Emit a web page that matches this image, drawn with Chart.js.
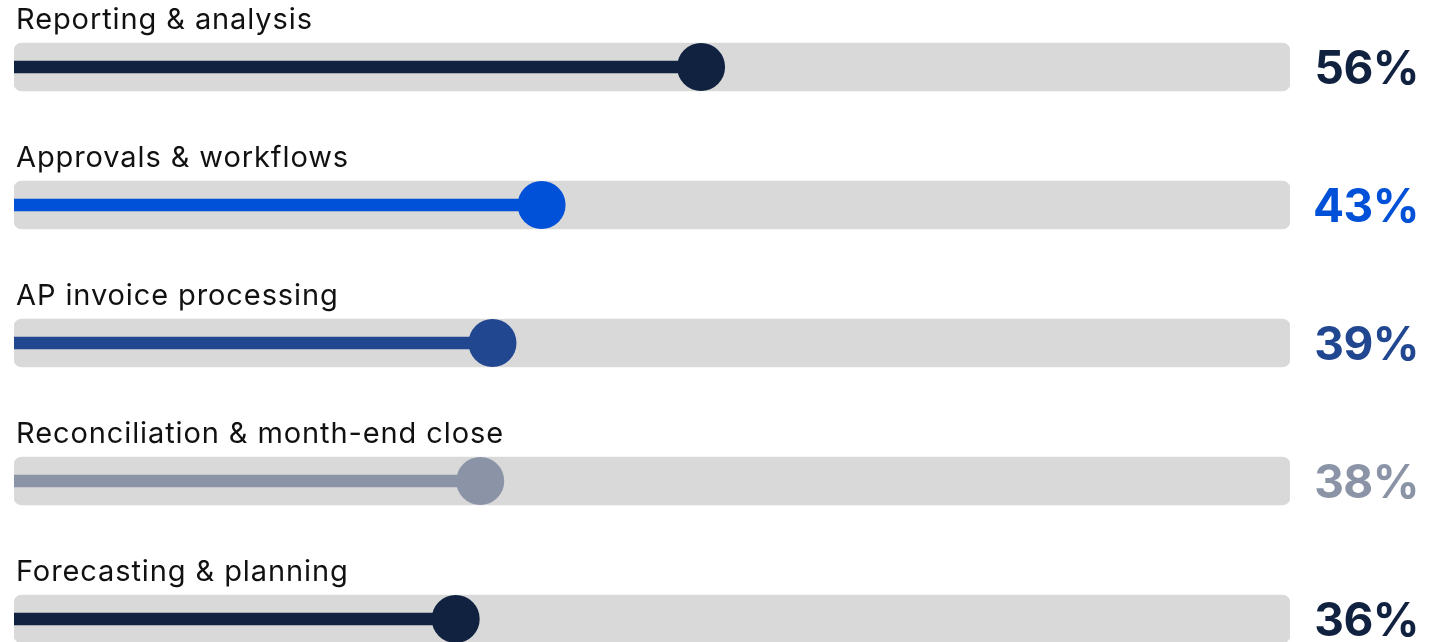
<!DOCTYPE html>
<html>
<head>
<meta charset="utf-8">
<script src="https://cdn.jsdelivr.net/npm/chart.js@4.4.1/dist/chart.umd.min.js"></script>
<style>
  html, body { margin: 0; padding: 0; background: #fff; overflow: hidden; }
  #wrap { position: absolute; left: 0; top: -2px; width: 1429px; height: 690px; }
</style>
</head>
<body>
<div id="wrap"><canvas id="chart"></canvas></div>
<script>
const categories = [
  'Reporting & analysis',
  'Approvals & workflows',
  'AP invoice processing',
  'Reconciliation & month-end close',
  'Forecasting & planning',
];
const shares = [56, 43, 39, 38, 36];
const rowColors = ['#10223f', '#0050d8', '#224791', '#8b94a7', '#10223f'];
const trackMax = 104;

// labels above each track, percentage on the right
const rowText = {
  id: 'rowText',
  afterDatasetsDraw(chart) {
    const { ctx, scales } = chart;
    ctx.save();
    categories.forEach((name, i) => {
      const y = scales.y.getPixelForValue(i);
      ctx.fillStyle = '#111111';
      ctx.font = '400 29px Inter, "Noto Sans", sans-serif';
      ctx.letterSpacing = '0.9px';
      ctx.textAlign = 'left';
      ctx.textBaseline = 'alphabetic';
      ctx.fillText(name, 16, y - 38.5);

      ctx.fillStyle = rowColors[i];
      ctx.font = '700 46px Inter, "Noto Sans", sans-serif';
      ctx.letterSpacing = '-0.5px';
      ctx.textAlign = 'right';
      ctx.fillText(shares[i] + '%', 1419, y + 17);
    });
    ctx.restore();
  },
};

new Chart(document.getElementById('chart'), {
  type: 'bar',
  data: {
    labels: categories,
    datasets: [
      {
        type: 'line',
        indexAxis: 'y',
        data: categories.map((c, i) => ({ x: shares[i], y: c })),
        showLine: false,
        pointRadius: 24,
        pointHoverRadius: 24,
        pointBorderWidth: 0,
        pointBackgroundColor: rowColors,
        clip: false,
        order: 0,
      },
      {
        data: shares,
        backgroundColor: rowColors,
        barThickness: 12,
        grouped: false,
        order: 1,
      },
      {
        data: categories.map(() => trackMax),
        backgroundColor: '#d9d9d9',
        barThickness: 48,
        borderRadius: 8,
        borderSkipped: false,
        grouped: false,
        order: 2,
      },
    ],
  },
  options: {
    indexAxis: 'y',
    responsive: true,
    maintainAspectRatio: false,
    animation: false,
    layout: { autoPadding: false, padding: { left: 14, right: 139, top: 0, bottom: 0 } },
    plugins: { legend: { display: false }, tooltip: { enabled: false } },
    scales: {
      x: { type: 'linear', min: 0, max: trackMax, display: false },
      y: { type: 'category', display: false, offset: true },
    },
  },
  plugins: [rowText],
});
</script>
</body>
</html>
